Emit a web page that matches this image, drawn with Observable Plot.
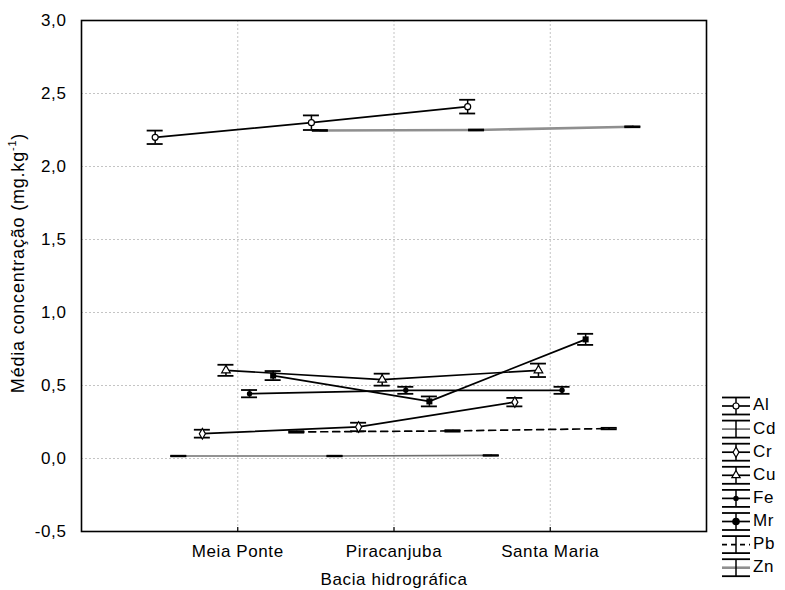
<!DOCTYPE html>
<html>
<head>
<meta charset="utf-8">
<script src="https://cdn.jsdelivr.net/npm/d3@7"></script>
<script src="https://cdn.jsdelivr.net/npm/@observablehq/plot@0.6"></script>
<style>
  html, body { margin: 0; padding: 0; background: white; }
  #wrap { position: relative; width: 785px; height: 590px; }
  #wrap svg { position: absolute; left: 0; top: 0; }
</style>
</head>
<body>
<div id="wrap"></div>
<script>
// ---- data ----
const categories = ["Meia Ponte", "Piracanjuba", "Santa Maria"];
const series = ["Al", "Cd", "Cr", "Cu", "Fe", "Mr", "Pb", "Zn"];

const meanAl = [2.20, 2.30, 2.41];
const meanCd = [0.017, 0.017, 0.021];
const meanCr = [0.170, 0.216, 0.386];
const meanCu = [0.604, 0.540, 0.604];
const meanFe = [0.444, 0.467, 0.467];
const meanMr = [0.568, 0.391, 0.816];
const meanPb = [0.182, 0.189, 0.205];
const meanZn = [2.247, 2.250, 2.272];

const errAl = [0.046, 0.050, 0.047];
const errCd = [0.002, 0.002, 0.002];
const errCr = [0.027, 0.029, 0.029];
const errCu = [0.038, 0.041, 0.046];
const errFe = [0.025, 0.024, 0.024];
const errMr = [0.031, 0.034, 0.038];
const errPb = [0.005, 0.005, 0.005];
const errZn = [0.003, 0.003, 0.003];

const yTicks = [-0.5, 0, 0.5, 1, 1.5, 2, 2.5, 3];

// ---- build table ----
const means = {Al: meanAl, Cd: meanCd, Cr: meanCr, Cu: meanCu, Fe: meanFe, Mr: meanMr, Pb: meanPb, Zn: meanZn};
const errs  = {Al: errAl, Cd: errCd, Cr: errCr, Cu: errCu, Fe: errFe, Mr: errMr, Pb: errPb, Zn: errZn};

const W = 785, H = 590;
const mL = 81, mR = 79, mT = 20, mB = 59;
const step = 0.151;           // horizontal dodge between series (x units)
const pxPerUnit = (W - mL - mR) / 4;
const cap = 8 / pxPerUnit;    // half cap width in x units

const rows = [];
series.forEach((s, i) => {
  categories.forEach((c, j) => {
    const m = means[s][j], e = errs[s][j];
    const x = j + 1 + (i - 3.5) * step;
    rows.push({series: s, cat: c, x, y: m, lo: m - e, hi: m + e, xa: x - cap, xb: x + cap});
  });
});

const lineStyle = {
  Al: {stroke: "#000", strokeWidth: 1.7},
  Cd: {stroke: "#707070", strokeWidth: 1.7},
  Cr: {stroke: "#000", strokeWidth: 1.7},
  Cu: {stroke: "#000", strokeWidth: 1.7},
  Fe: {stroke: "#000", strokeWidth: 1.7},
  Mr: {stroke: "#000", strokeWidth: 1.7},
  Pb: {stroke: "#000", strokeWidth: 1.7, strokeDasharray: "7,5"},
  Zn: {stroke: "#8f8f8f", strokeWidth: 2.6}
};

const fmt = d => d.toFixed(1).replace(".", ",");
const font = "'Liberation Sans', Arial, sans-serif";
const tickLen = 4 / 145;

const marks = [
  Plot.gridY(yTicks.filter(d => d > -0.5 && d < 3), {stroke: "#c4c4c4", strokeOpacity: 1, strokeDasharray: "2,2"}),
  Plot.gridX([1, 2, 3], {stroke: "#c4c4c4", strokeOpacity: 1, strokeDasharray: "2,2"}),
  Plot.axisY({ticks: yTicks, tickFormat: fmt, tickSize: 0, tickPadding: 15, label: null, fontSize: 17}),
  Plot.axisX({ticks: [1, 2, 3], tickFormat: d => categories[d - 1], tickSize: 0, tickPadding: 13, label: null, fontSize: 17}),
  Plot.ruleX([1, 2, 3], {x: d => d, y1: -0.5, y2: -0.5 + tickLen, stroke: "#000", strokeWidth: 1.2}),
];

series.forEach(s => {
  marks.push(Plot.line(rows.filter(r => r.series === s), {x: "x", y: "y", ...lineStyle[s]}));
});
marks.push(
  Plot.ruleX(rows, {x: "x", y1: "lo", y2: "hi", stroke: "#000", strokeWidth: 1.5}),
  Plot.ruleY(rows, {y: "lo", x1: "xa", x2: "xb", stroke: "#000", strokeWidth: 1.8}),
  Plot.ruleY(rows, {y: "hi", x1: "xa", x2: "xb", stroke: "#000", strokeWidth: 1.8}),
  Plot.dot(rows.filter(r => r.series === "Al"), {x: "x", y: "y", r: 3, fill: "white", stroke: "#000", strokeWidth: 1.2}),
  Plot.dot(rows.filter(r => r.series === "Cr"), {x: "x", y: "y", symbol: "diamond", r: 3.2, fill: "white", stroke: "#000", strokeWidth: 1.2}),
  Plot.dot(rows.filter(r => r.series === "Cu"), {x: "x", y: "y", symbol: "triangle", r: 3.2, fill: "white", stroke: "#000", strokeWidth: 1.2}),
  Plot.dot(rows.filter(r => r.series === "Fe"), {x: "x", y: "y", r: 2.7, fill: "#000", stroke: "none"}),
  Plot.dot(rows.filter(r => r.series === "Mr"), {x: "x", y: "y", symbol: "square", r: 3.4, fill: "#000", stroke: "none"}),
  Plot.frame({stroke: "#000", strokeWidth: 1.6})
);

const chart = Plot.plot({
  width: W, height: H,
  marginLeft: mL, marginRight: mR, marginTop: mT, marginBottom: mB,
  style: {fontFamily: font, fontSize: "17px", letterSpacing: "0.6px", background: "white", color: "#000"},
  x: {domain: [0, 4]},
  y: {domain: [-0.5, 3]},
  marks
});
document.getElementById("wrap").appendChild(chart);

// ---- overlay: axis titles and legend ----
const ov = d3.select("#wrap").append("svg")
  .attr("width", W).attr("height", H)
  .style("font-family", font).style("font-size", "17px").style("letter-spacing", "0.6px");

ov.append("text")
  .attr("x", 394).attr("y", 581)
  .attr("text-anchor", "middle").attr("dominant-baseline", "middle")
  .text("Bacia hidrográfica");

const yl = ov.append("text")
  .attr("transform", "translate(19,263) rotate(-90)")
  .attr("text-anchor", "middle").attr("dominant-baseline", "middle")
  .style("font-size", "18px").style("letter-spacing", "0.8px");
yl.append("tspan").text("Média concentração (mg.kg");
yl.append("tspan").attr("baseline-shift", "super").attr("font-size", "11px").text("-1");
yl.append("tspan").text(")");

const lgX = 736, lgY0 = 406, lgDy = 23.1, half = 14, capY = 8.5;
series.forEach((s, i) => {
  const cy = lgY0 + i * lgDy;
  const g = ov.append("g");
  const st = lineStyle[s];
  g.append("line").attr("x1", lgX - half).attr("x2", lgX + half).attr("y1", cy).attr("y2", cy)
    .attr("stroke", st.stroke).attr("stroke-width", st.strokeWidth)
    .attr("stroke-dasharray", st.strokeDasharray ? "5,4" : null);
  g.append("line").attr("x1", lgX).attr("x2", lgX).attr("y1", cy - capY).attr("y2", cy + capY)
    .attr("stroke", "#000").attr("stroke-width", 1.5);
  [cy - capY, cy + capY].forEach(yy => g.append("line")
    .attr("x1", lgX - half).attr("x2", lgX + half).attr("y1", yy).attr("y2", yy)
    .attr("stroke", "#000").attr("stroke-width", 1.8));
  if (s === "Al") g.append("circle").attr("cx", lgX).attr("cy", cy).attr("r", 3).attr("fill", "white").attr("stroke", "#000").attr("stroke-width", 1.2);
  if (s === "Cr") g.append("path").attr("d", d3.symbol(d3.symbolDiamond, 30)()).attr("transform", `translate(${lgX},${cy})`).attr("fill", "white").attr("stroke", "#000").attr("stroke-width", 1.2);
  if (s === "Cu") g.append("path").attr("d", d3.symbol(d3.symbolTriangle, 30)()).attr("transform", `translate(${lgX},${cy})`).attr("fill", "white").attr("stroke", "#000").attr("stroke-width", 1.2);
  if (s === "Fe") g.append("circle").attr("cx", lgX).attr("cy", cy).attr("r", 2.7).attr("fill", "#000");
  if (s === "Mr") g.append("circle").attr("cx", lgX).attr("cy", cy).attr("r", 3.8).attr("fill", "#000");
  g.append("text").attr("x", 753).attr("y", cy).attr("dominant-baseline", "middle").text(s);
});
</script>
</body>
</html>
